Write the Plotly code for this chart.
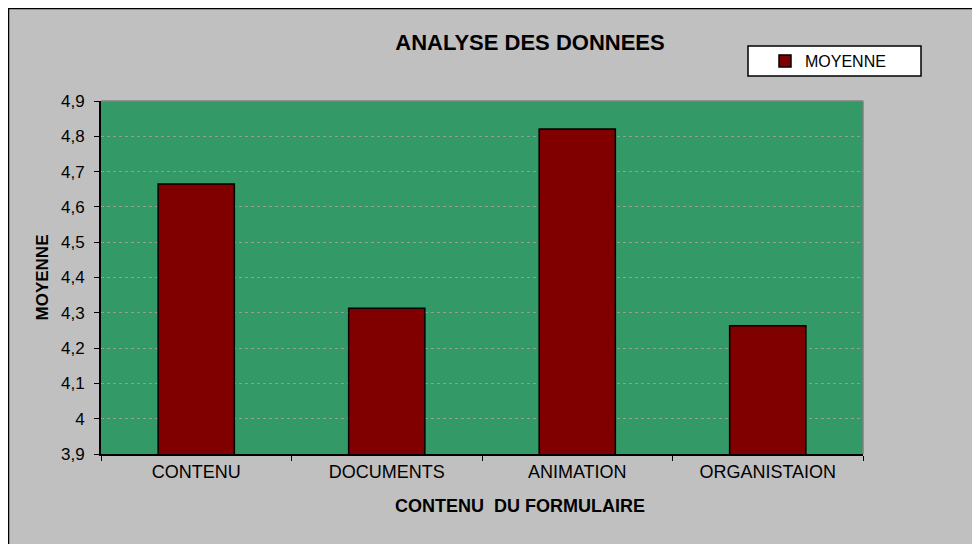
import plotly.graph_objects as go

categories = ["CONTENU", "DOCUMENTS", "ANIMATION", "ORGANISTAION"]
moyenne = [4.665, 4.313, 4.821, 4.263]
tick_values = [3.9, 4.0, 4.1, 4.2, 4.3, 4.4, 4.5, 4.6, 4.7, 4.8, 4.9]
tick_labels = ["3,9", "4", "4,1", "4,2", "4,3", "4,4", "4,5", "4,6", "4,7", "4,8", "4,9"]
series_name = "MOYENNE"
x_title = "CONTENU  DU FORMULAIRE"
y_title = "MOYENNE"
chart_title = "ANALYSE DES DONNEES"

W, H = 980, 544
OFF = 8  # page body margin
L, R, T, B = 101 - OFF, 863 - OFF, 101 - OFF, 454 - OFF
pw, ph = R - L, B - T


def px(x):
    return (x - L) / pw


def py(y):
    return (B - y) / ph


FONT = "Liberation Sans, Arial, sans-serif"

fig = go.Figure()
fig.add_trace(go.Bar(
    x=categories, y=moyenne, name=series_name, width=0.4,
    marker=dict(color="#800000", line=dict(color="#000000", width=1.5)),
    showlegend=True,
))

shapes = [
    # chart frame
    dict(type="rect", xref="paper", yref="paper", x0=px(0), x1=px(W), y0=py(H), y1=py(0),
         fillcolor="rgba(0,0,0,0)", line=dict(color="black", width=2.5), layer="below"),
    # plot area grey border top/right
    dict(type="line", xref="paper", yref="paper", x0=0, x1=1, y0=1, y1=1,
         line=dict(color="#808080", width=1.5), layer="above"),
    dict(type="line", xref="paper", yref="paper", x0=1, x1=1, y0=0, y1=1,
         line=dict(color="#808080", width=1.5), layer="above"),
    # legend box
    dict(type="rect", xref="paper", yref="paper", x0=px(748 - OFF), x1=px(921 - OFF),
         y0=py(76 - OFF), y1=py(46 - OFF),
         fillcolor="white", line=dict(color="black", width=1.5), layer="below"),
]

annotations = [
    dict(text="<b>" + x_title + "</b>", xref="paper", yref="paper",
         x=px(520 - OFF), y=py(506 - OFF), xanchor="center", yanchor="middle",
         showarrow=False, font=dict(size=18, family=FONT, color="black")),
]

fig.update_layout(
    width=W, height=H,
    margin=dict(l=L, r=W - R, t=T, b=H - B, pad=0),
    paper_bgcolor="#c0c0c0",
    plot_bgcolor="#339966",
    font=dict(family=FONT, color="black"),
    separators=", ",
    title=dict(text="<b>" + chart_title + "</b>", x=(530 - OFF) / W, xanchor="center",
               y=1 - (42 - OFF) / H, yanchor="middle", yref="container",
               font=dict(size=22, family=FONT, color="black")),
    showlegend=True,
    legend=dict(x=px(757), xanchor="left", y=py(61 - OFF), yanchor="middle",
                bgcolor="rgba(0,0,0,0)", borderwidth=0,
                font=dict(size=16, family=FONT, color="black"),
                itemwidth=30),
    shapes=shapes,
    annotations=annotations,
    bargap=0.6,
)

fig.update_xaxes(
    showline=True, linecolor="black", linewidth=2,
    ticks="outside", ticklen=5, tickcolor="black", tickwidth=1,
    tickson="boundaries", showgrid=False,
    tickfont=dict(size=18, family=FONT, color="black"),
)
fig.update_yaxes(
    range=[3.9, 4.9], tickvals=tick_values, ticktext=tick_labels,
    showline=True, linecolor="black", linewidth=2,
    ticks="outside", ticklen=5, tickcolor="black", tickwidth=1,
    ticklabelstandoff=6,
    showgrid=True, gridcolor="#9a9a9a", griddash="dot", gridwidth=1,
    zeroline=False,
    tickfont=dict(size=17, family=FONT, color="black"),
    title=dict(text="<b>" + y_title + "</b>", standoff=8,
               font=dict(size=17, family=FONT, color="black")),
)

fig.write_html("out.html")
